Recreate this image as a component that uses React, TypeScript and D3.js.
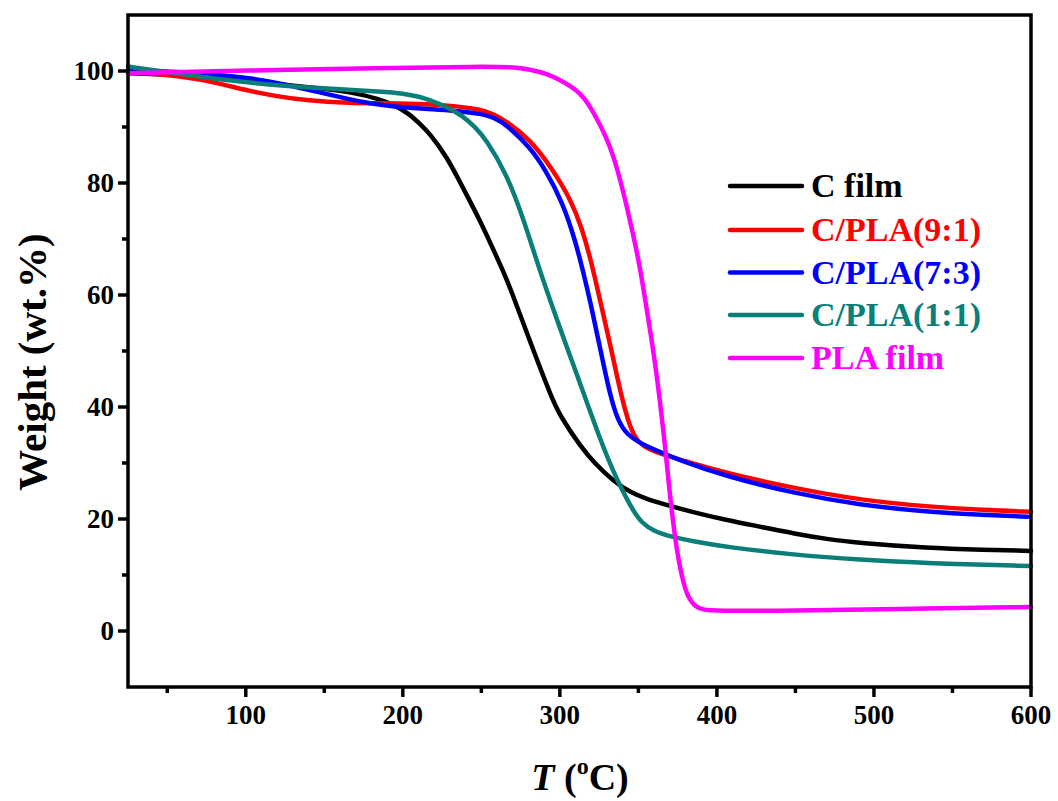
import React from "react";
import * as d3 from "d3";

const xTicks = [100, 200, 300, 400, 500, 600];
const xMinor = [50, 150, 250, 350, 450, 550];
const yTicks = [0, 20, 40, 60, 80, 100];
const yMinor = [10, 30, 50, 70, 90];

const cFilm: [number, number][] = [
  [25, 99.6], [62, 99.3], [100, 98.2], [126, 97.5], [150, 96.8], [168, 96.2], [185, 95.0], [194, 94], [204, 92.4],
  [211, 90.5], [217, 88.9], [228, 84.7], [238, 79.3], [249, 73.4], [257, 68.5], [266, 63], [272, 58.5], [283, 50.2],
  [295, 41.5], [300, 38.5], [313, 33], [322, 30], [334, 26.8], [345, 24.7], [356, 23.5], [364, 22.8], [385, 21.2],
  [406, 19.8], [430, 18.5], [449, 17.4], [470, 16.4], [491, 15.7], [534, 14.8], [570, 14.5], [600, 14.3],
];
const cpla91: [number, number][] = [
  [25, 99.9], [62, 99], [80, 98], [104, 96.3], [120, 95.5], [136, 94.8], [168, 94.2], [185, 94.3], [211, 94.1],
  [228, 93.9], [249, 93.2], [258, 92.3], [266, 91], [281, 87.8], [295, 82.6], [307, 77], [314, 72], [320, 66],
  [326, 58.5], [333, 50], [339, 42], [345, 36], [350, 33.6], [357, 32.4], [366, 31.5], [380, 30.3], [406, 28.2],
  [449, 25.5], [491, 23.4], [534, 22.2], [570, 21.6], [600, 21.3],
];
const cpla73: [number, number][] = [
  [25, 100.2], [62, 99.8], [104, 98.8], [125, 97.6], [147, 96.2], [165, 95], [179, 94.2], [195, 93.6], [211, 93.3],
  [230, 93], [249, 92.4], [258, 91.7], [266, 90.4], [281, 86.4], [291, 82.3], [302, 76.4], [310, 69.5], [315, 64],
  [320, 58], [326, 50], [332, 42], [337, 37.5], [343, 35], [350, 33.8], [355, 33], [376, 30.5], [406, 27.6],
  [449, 24.6], [491, 22.5], [534, 21.3], [570, 20.7], [598, 20.4],
];
const cpla11: [number, number][] = [
  [25, 100.8], [62, 99.3], [104, 97.8], [147, 96.9], [189, 96.3], [200, 96], [211, 95.4], [217, 94.8], [228, 93.6],
  [238, 92], [246, 90], [253, 87.8], [266, 81.7], [277, 73.5], [287, 64.5], [297, 56.5], [306, 49.5], [317, 41],
  [326, 34], [334, 28.5], [340, 25], [346, 21.8], [352, 19.3], [360, 17.8], [370, 16.9], [385, 16], [406, 15],
  [449, 13.6], [491, 12.7], [534, 12.1], [600, 11.6],
];
const plaFilm: [number, number][] = [
  [25, 99.6], [100, 100.1], [185, 100.5], [249, 100.8], [270, 100.7], [281, 100.3], [292, 99.5], [300, 98.4],
  [307, 97.3], [313, 96], [318, 94.2], [323, 91.8], [329, 88.5], [334, 85], [340, 79], [347, 70.4], [351, 65],
  [355, 58], [359.5, 50.2], [363.7, 41.25], [367, 33], [370, 24.5], [372.5, 18.5], [375, 13.5], [378.6, 8.5],
  [382, 5.8], [386, 4.4], [391, 3.8], [398, 3.6], [449, 3.6], [512, 3.9], [600, 4.3],
];

const seriesNames = ["C film", "C/PLA(9:1)", "C/PLA(7:3)", "C/PLA(1:1)", "PLA film"];
const seriesColors = ["#000000", "#ff0000", "#0000ff", "#0a7f7a", "#ff00ff"];
const seriesData = [cFilm, cpla91, cpla73, cpla11, plaFilm];

const FONT = "'Liberation Serif', 'Times New Roman', serif";

export default function App() {
  const x = d3.scaleLinear().domain([25, 600]).range([128, 1031]);
  const y = d3.scaleLinear().domain([-10, 110]).range([687, 15]);
  const line = d3
    .line<[number, number]>()
    .x((d) => x(d[0]))
    .y((d) => y(d[1]))
    .curve(d3.curveBasis);

  const legendY = [186, 230, 272.5, 315, 358];

  return (
    <svg width={1058} height={801} style={{ position: "absolute", left: 0, top: 0, background: "#fff" }}>
      <rect x={0} y={0} width={1058} height={801} fill="#fff" />
      <g>
        {seriesData.map((d, i) => (
          <path key={i} d={line(d) || ""} fill="none" stroke={seriesColors[i]} strokeWidth={4.5} strokeLinejoin="round" strokeLinecap="round" />
        ))}
      </g>
      <rect x={x(25)} y={y(110)} width={x(600) - x(25)} height={y(-10) - y(110)} fill="none" stroke="#000" strokeWidth={3.5} />
      {xTicks.map((t) => (
        <g key={"xt" + t}>
          <line x1={x(t)} x2={x(t)} y1={y(-10)} y2={y(-10) + 10} stroke="#000" strokeWidth={3.5} />
          <text x={x(t)} y={724} textAnchor="middle" fontFamily={FONT} fontWeight="bold" fontSize={27}>{t}</text>
        </g>
      ))}
      {xMinor.map((t) => (
        <line key={"xm" + t} x1={x(t)} x2={x(t)} y1={y(-10)} y2={y(-10) + 6} stroke="#000" strokeWidth={3.5} />
      ))}
      {yTicks.map((t) => (
        <g key={"yt" + t}>
          <line x1={x(25) - 10} x2={x(25)} y1={y(t)} y2={y(t)} stroke="#000" strokeWidth={3.5} />
          <text x={114} y={y(t) + 9} textAnchor="end" fontFamily={FONT} fontWeight="bold" fontSize={27}>{t}</text>
        </g>
      ))}
      {yMinor.map((t) => (
        <line key={"ym" + t} x1={x(25) - 6} x2={x(25)} y1={y(t)} y2={y(t)} stroke="#000" strokeWidth={3.5} />
      ))}
      <text transform="translate(46,362) rotate(-90)" textAnchor="middle" fontFamily={FONT} fontWeight="bold" fontSize={41}>Weight (wt.%)</text>
      <text x={580} y={790} textAnchor="middle" fontFamily={FONT} fontWeight="bold" fontSize={38}>
        <tspan fontStyle="italic">T</tspan>
        <tspan> (</tspan>
        <tspan fontSize={24} dy={-16}>o</tspan>
        <tspan dy={16}>C)</tspan>
      </text>
      {seriesNames.map((n, i) => (
        <g key={"lg" + i}>
          <line x1={730} x2={802} y1={legendY[i]} y2={legendY[i]} stroke={seriesColors[i]} strokeWidth={4.5} strokeLinecap="round" />
          <text x={811} y={legendY[i] + 11} fontFamily={FONT} fontWeight="bold" fontSize={34} fill={seriesColors[i]}>{n}</text>
        </g>
      ))}
    </svg>
  );
}
